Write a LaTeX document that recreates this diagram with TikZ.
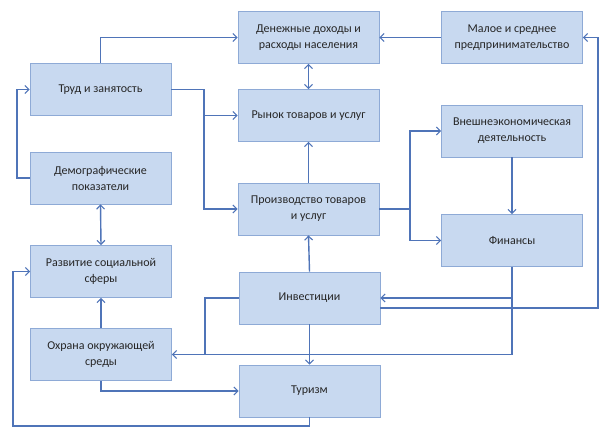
\documentclass[tikz,border=0pt]{standalone}
\usepackage{fontspec}
\setmainfont{Carlito}
\usetikzlibrary{arrows.meta}
\definecolor{boxfill}{HTML}{C8D9F0}
\definecolor{boxline}{HTML}{8EAAD6}
\definecolor{conn}{HTML}{4F74B8}
\begin{document}
\begin{tikzpicture}[x=1pt,y=-1pt,
  box/.style={draw=boxline,line width=0.8pt,fill=boxfill,minimum width=141pt,minimum height=52pt,
    align=center,inner sep=2pt,font=\fontsize{12}{16}\selectfont,text=black!85},
  conline/.style={draw=conn,line width=1.4pt},
  arr/.style={conline,-{Straight Barb[length=4pt,width=8pt,line width=1.1pt]}},
  darr/.style={conline,{Straight Barb[length=4pt,width=8pt,line width=1.1pt]}-{Straight Barb[length=4pt,width=8pt,line width=1.1pt]}}]
\useasboundingbox (0,0) rectangle (609,435);
\node[box] (den) at (308.5,37.5) {Денежные доходы и\\расходы населения};
\node[box] (trud) at (100.5,89.5) {Труд и занятость};
\node[box] (rynok) at (308.5,115.5) {Рынок товаров и услуг};
\node[box] (demo) at (100.5,178) {Демографические\\показатели};
\node[box] (proizv) at (308.5,209) {Производство товаров\\и услуг};
\node[box] (maloe) at (512,37.5) {Малое и среднее\\предпринимательство};
\node[box] (vnesh) at (512,131) {Внешнеэкономическая\\деятельность};
\node[box] (fin) at (512,240.5) {Финансы};
\node[box] (razv) at (101,271.5) {Развитие социальной\\сферы};
\node[box] (invest) at (309.5,298) {Инвестиции};
\node[box] (ohrana) at (101,354.5) {Охрана окружающей\\среды};
\node[box] (turizm) at (309.5,391) {Туризм};
\coordinate (j1) at (204,89.5);
\coordinate (j2) at (410,209);
\coordinate (j4) at (205,354.5);
\coordinate (j5) at (598,308);
\coordinate (j7) at (13,426);
\coordinate (j8) at (17,178);
% connectors
\draw[arr] (trud.north) |- (den.west);
\draw[conline] (trud.east) -- (j1);
\draw[arr] (j1) |- (rynok.west);
\draw[arr] (j1) |- (proizv.west);
\draw[arr] (demo.west) -- (j8) |- (trud.west);
\draw[darr] (den.south) -- (rynok.north);
\draw[arr] (proizv.north) -- (rynok.south);
\draw[arr] (maloe.west) -- (den.east);
\draw[conline] (proizv.east) -- (j2);
\draw[arr] (j2) |- (vnesh.west);
\draw[arr] (j2) |- (fin.west);
\draw[arr] (vnesh.south) -- (fin.north);
\draw[arr] (fin.south) |- (invest.east);
\draw[arr] (fin.south) |- (ohrana.east);
\draw[conline] (invest.west) -| (j4);
\draw[arr] (invest.south) -- (turizm.north);
\draw[arr] (invest.north) -- (proizv.south);
\draw[arr] ([yshift=-10pt]invest.east) -- (j5) |- (maloe.east);
\draw[darr] (demo.south) -- (razv.north);
\draw[arr] (ohrana.north) -- (razv.south);
\draw[arr] (ohrana.south) |- (turizm.west);
\draw[arr] (turizm.south) |- (j7) |- (razv.west);
\end{tikzpicture}
\end{document}
